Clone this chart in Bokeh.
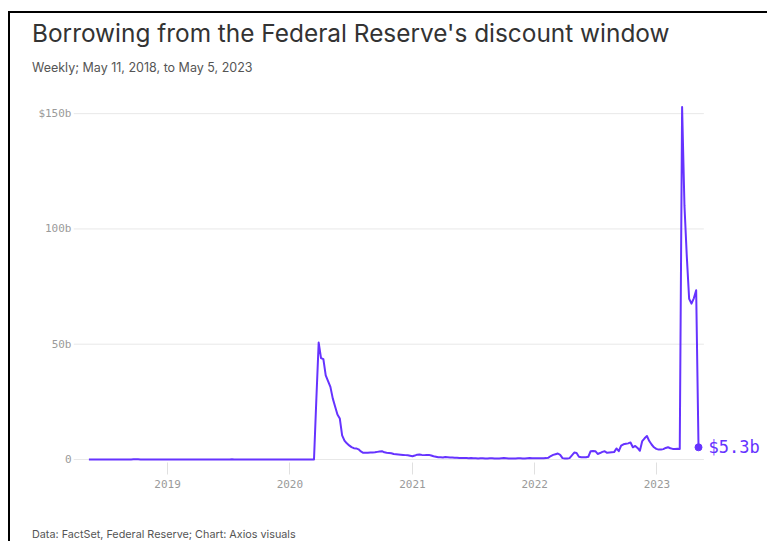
import pandas as pd
from bokeh.plotting import figure
from bokeh.layouts import column
from bokeh.models import ColumnDataSource, Range1d, FixedTicker, DatetimeTickFormatter, Label, Div
from bokeh.embed import file_html
from bokeh.resources import INLINE

# ---- data (weekly, $ billions) ----
start_date = "2018-05-11"
end_date = "2023-05-05"

seg_2018_2020 = [
    0.02, 0.02, 0.03, 0.02, 0.01, 0.02, 0.02, 0.03, 0.02, 0.02,
    0.02, 0.03, 0.02, 0.02, 0.03, 0.02, 0.02, 0.03, 0.05, 0.08,
    0.10, 0.06, 0.03, 0.02, 0.02, 0.03, 0.02, 0.02, 0.02, 0.03,
    0.04, 0.03, 0.02, 0.02, 0.03, 0.02, 0.02, 0.03, 0.02, 0.02,
    0.02, 0.03, 0.02, 0.02, 0.02, 0.03, 0.02, 0.02, 0.03, 0.02,
    0.02, 0.02, 0.03, 0.02, 0.02, 0.03, 0.02, 0.02, 0.02, 0.03,
    0.05, 0.08, 0.05, 0.03, 0.02, 0.02, 0.03, 0.02, 0.02, 0.02,
    0.03, 0.02, 0.02, 0.03, 0.02, 0.02, 0.02, 0.03, 0.02, 0.02,
    0.02, 0.03, 0.02, 0.02, 0.03, 0.02, 0.02, 0.02, 0.03, 0.02,
    0.02, 0.02, 0.03, 0.02, 0.02, 0.02,
]
seg_covid = [
    0.02, 26.0, 50.7, 44.0, 43.5, 36.5, 34.0, 31.5, 26.5, 23.0,
    19.5, 17.8, 10.5, 8.2, 7.0, 6.1, 5.4, 4.9, 4.8, 4.4,
    3.5, 2.9, 2.9, 2.9, 3.0, 3.0, 3.1, 3.3, 3.5, 3.6,
    3.1, 2.9, 2.8, 2.7, 2.4, 2.3, 2.2, 2.1, 2.0, 1.9,
    1.8, 1.6,
]
seg_2021 = [
    1.4, 1.7, 2.1, 2.2, 2.0, 1.9, 2.0, 2.0, 1.7, 1.4,
    1.2, 1.0, 1.0, 0.9, 1.1, 1.0, 0.9, 0.9, 0.8, 0.8,
    0.7, 0.7, 0.6, 0.6, 0.5, 0.6, 0.5, 0.5, 0.4, 0.5,
    0.5, 0.4, 0.4, 0.5, 0.5, 0.4, 0.4, 0.4, 0.5, 0.6,
    0.5, 0.4, 0.4, 0.4, 0.4, 0.5, 0.5, 0.4, 0.4, 0.5,
    0.6, 0.5, 0.5,
]
seg_2022 = [
    0.5, 0.5, 0.5, 0.5, 0.6, 0.8, 1.5, 2.0, 2.3, 2.6,
    2.0, 0.6, 0.4, 0.4, 0.6, 1.8, 3.0, 2.8, 1.2, 1.0,
    1.0, 1.0, 1.2, 3.6, 3.7, 3.6, 2.4, 2.8, 3.3, 3.6,
    2.9, 3.0, 3.1, 3.2, 4.8, 3.6, 6.0, 6.6, 6.8, 7.0,
    7.4, 5.3, 5.9, 5.0, 3.8, 8.0, 9.2, 10.2, 8.0, 6.5,
    5.3, 4.6,
]
seg_2023 = [
    4.3, 4.3, 4.5, 5.0, 5.3, 4.9, 4.6, 4.6, 4.7, 4.6,
    152.9, 110.2, 88.2, 69.7, 67.6, 69.9, 73.4, 5.3,
]
borrowing_bn = seg_2018_2020 + seg_covid + seg_2021 + seg_2022 + seg_2023
dates = pd.date_range(start_date, end_date, freq="7D")
n = min(len(dates), len(borrowing_bn))
dates = dates[:n]
borrowing_bn = borrowing_bn[:n]

y_ticks = [0, 50, 100, 150]
y_tick_labels = ["0", "50b", "100b", "$150b"]
x_tick_years = [2019, 2020, 2021, 2022, 2023]
end_label = "$5.3b"

title_text = "Borrowing from the Federal Reserve's discount window"
subtitle_text = "Weekly; May 11, 2018, to May 5, 2023"
source_text = "Data: FactSet, Federal Reserve; Chart: Axios visuals"

LINE = "#6633ff"
GRID = "#e8e8e8"

x_start = pd.Timestamp("2018-03-26")
x_grid_end = pd.Timestamp("2023-05-21")
x_end = pd.Timestamp("2023-11-21")

src = ColumnDataSource(dict(date=dates, val=borrowing_bn))

p = figure(width=755, height=437, output_backend="svg", toolbar_location=None,
           x_axis_type="datetime",
           x_range=Range1d(x_start, x_end),
           y_range=Range1d(-1.3, 155.7),
           min_border_left=63, min_border_right=0, min_border_top=25, min_border_bottom=50)
p.outline_line_color = None
p.background_fill_color = "white"
p.border_fill_color = "white"

# grid drawn as segments so it stops before the end label
p.xgrid.grid_line_color = None
p.ygrid.grid_line_color = None
p.segment(x0=[x_start] * len(y_ticks), x1=[x_grid_end] * len(y_ticks),
          y0=y_ticks, y1=y_ticks, line_color=GRID, line_width=1)

# y axis
p.yaxis.ticker = FixedTicker(ticks=y_ticks)
p.yaxis.major_label_overrides = {t: l for t, l in zip(y_ticks, y_tick_labels)}
p.yaxis.axis_line_color = None
p.yaxis.major_tick_line_color = None
p.yaxis.minor_tick_line_color = None
p.yaxis.major_tick_in = 0
p.yaxis.major_tick_out = 0
p.yaxis.major_label_standoff = 2
p.yaxis.major_label_text_font = "DejaVu Sans Mono"
p.yaxis.major_label_text_font_size = "11px"
p.yaxis.major_label_text_color = "#9a9a9a"

# x axis
xt = [pd.Timestamp(f"{y}-01-01").timestamp() * 1000 for y in x_tick_years]
p.xaxis.ticker = FixedTicker(ticks=xt)
p.xaxis.formatter = DatetimeTickFormatter(years="%Y", months="%Y", days="%Y",
                                          hours="%Y", minutes="%Y", seconds="%Y")
p.xaxis.axis_line_color = None
p.xaxis.major_tick_line_color = "#e0e0e0"
p.xaxis.major_tick_in = 0
p.xaxis.major_tick_out = 12
p.xaxis.minor_tick_line_color = None
p.xaxis.major_label_standoff = 5
p.xaxis.major_label_text_font = "DejaVu Sans Mono"
p.xaxis.major_label_text_font_size = "11px"
p.xaxis.major_label_text_color = "#9a9a9a"

# data
p.line("date", "val", source=src, line_color=LINE, line_width=2, line_join="round")
last = ColumnDataSource(dict(date=[dates[-1]], val=[borrowing_bn[-1]]))
p.scatter("date", "val", source=last, size=7, color=LINE)

p.add_layout(Label(x=dates[-1].timestamp() * 1000, y=borrowing_bn[-1], text=end_label,
                   x_offset=10, text_baseline="middle", text_font="DejaVu Sans Mono",
                   text_font_size="17px", text_color=LINE))

title_div = Div(text=title_text, width=735, height=28, margin=(6, 0, 0, 22),
                styles={"font-family": "Inter", "font-size": "24.4px", "color": "#333333",
                        "line-height": "28px", "white-space": "nowrap"})
subtitle_div = Div(text=subtitle_text, width=400, height=14, margin=(14, 0, 0, 22),
                   styles={"font-family": "Inter", "font-size": "12.5px", "color": "#555555",
                           "line-height": "14px", "white-space": "nowrap"})
source_div = Div(text=source_text, width=400, height=13, margin=(16, 0, 0, 22),
                 styles={"font-family": "Inter", "font-size": "10.8px", "color": "#555555",
                         "line-height": "13px", "white-space": "nowrap"})

layout = column(title_div, subtitle_div, p, source_div, margin=(11, 0, 0, 8),
                styles={"border-left": "2px solid black", "border-top": "2px solid black",
                        "background-color": "white"})

open("out.html", "w").write(file_html(layout, INLINE))
